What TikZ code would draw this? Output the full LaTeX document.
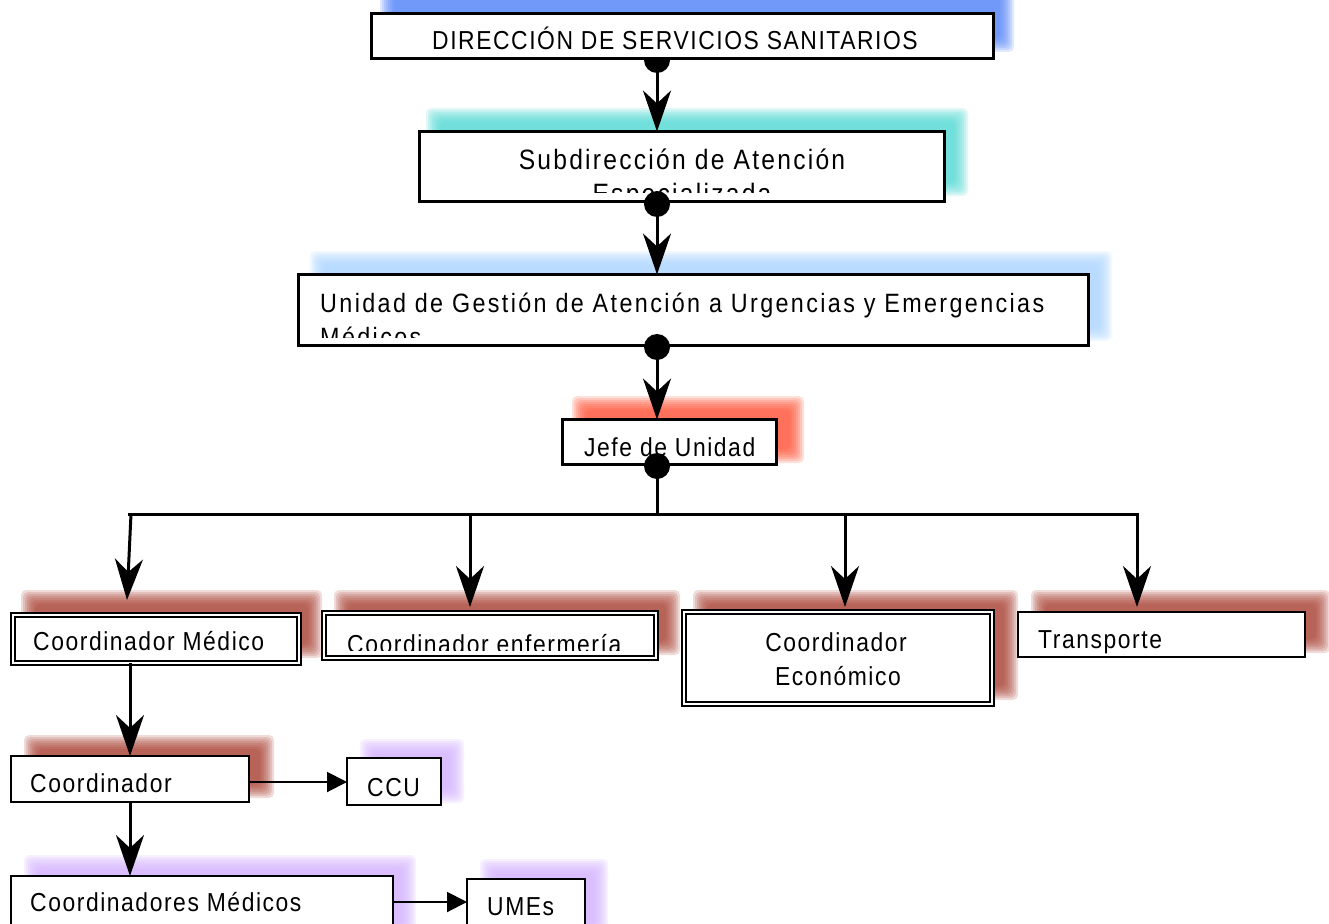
\documentclass[tikz,border=0pt]{standalone}
\usepackage{fontspec}
\setmainfont{Liberation Sans}
\newfontfamily\lab[FakeStretch=0.88, LetterSpace=6]{Liberation Sans}
\newfontfamily\labwide[FakeStretch=0.88, LetterSpace=8]{Liberation Sans}
\newfontfamily\labwider[FakeStretch=0.88, LetterSpace=9]{Liberation Sans}
\usetikzlibrary{arrows.meta}
\definecolor{gBlue}{RGB}{80,130,250}
\definecolor{gCyan}{RGB}{80,218,212}
\definecolor{gLight}{RGB}{170,212,255}
\definecolor{gRed}{RGB}{255,80,50}
\definecolor{gBrick}{RGB}{168,62,48}
\definecolor{gPurple}{RGB}{212,176,255}
\newcommand{\glowbox}[5]{%
  \foreach \d in {8,6,...,-6}{%
    \fill[#5, fill opacity=0.18, rounded corners=5pt] ({#1-\d},{#2-\d}) rectangle ({#3+\d},{#4+\d});}}
\tikzset{
  box/.style={draw=black, fill=white, line width=3pt, inner sep=0pt, outer sep=0pt},
  thinbox/.style={draw=black, fill=white, line width=2pt, inner sep=0pt, outer sep=0pt},
  dbox/.style={draw=black, double=white, double distance=2.5pt, line width=1.5pt, fill=white, inner sep=0pt, outer sep=0pt},
  txt/.style={inner sep=0pt, anchor=base west, font=\lab\fontsize{26}{34}\selectfont},
  dot/.style={circle, fill=black, inner sep=0pt, minimum size=26pt},
  bigarr/.style={line width=3pt, -{Stealth[length=41pt,width=28pt,inset=13pt]}},
  smallarr/.style={line width=2pt, -{Triangle[length=20pt,width=20pt]}},
  tree/.style={line width=3pt}
}
\begin{document}
\begin{tikzpicture}[x=1pt,y=-1pt]
\useasboundingbox (0,0) rectangle (1329,923);
\fill[white] (0,0) rectangle (1329,923);
% glows
\glowbox{388}{-12}{1006}{44}{gBlue}
\glowbox{434}{116}{960}{188}{gCyan}
\glowbox{318}{259}{1104}{333}{gLight}
\glowbox{580}{404}{796}{455}{gRed}
\glowbox{29}{598}{314}{650}{gBrick}
\glowbox{342}{598}{672}{647}{gBrick}
\glowbox{701}{598}{1010}{692}{gBrick}
\glowbox{1039}{598}{1322}{645}{gBrick}
\glowbox{32}{743}{266}{790}{gBrick}
\glowbox{368}{747}{456}{795}{gPurple}
\glowbox{32}{863}{408}{940}{gPurple}
\glowbox{488}{867}{600}{940}{gPurple}
% first dot behind top box
\node[dot] (d1) at (657,60) {};
% boxes
\node[box, minimum width=622pt, minimum height=45pt] (b1) at (682.5,36) {};
\node[box, minimum width=525pt, minimum height=70pt] (b2) at (682,166.5) {};
\node[box, minimum width=790pt, minimum height=71pt] (b3) at (693.5,310) {};
\node[box, minimum width=214pt, minimum height=45pt] (b4) at (669.5,442) {};
\node[dbox, minimum width=286pt, minimum height=48pt] (cm) at (156,639) {};
\node[dbox, minimum width=332pt, minimum height=45pt] (ce) at (490,635.5) {};
\node[dbox, minimum width=308pt, minimum height=92pt] (ceco) at (838,658) {};
\node[thinbox, minimum width=287pt, minimum height=45pt] (tr) at (1161.5,634.5) {};
\node[thinbox, minimum width=238pt, minimum height=46pt] (co) at (130,779) {};
\node[thinbox, minimum width=94pt, minimum height=47pt] (ccu) at (394,781.5) {};
\node[thinbox, minimum width=382pt, minimum height=74pt] (cms) at (202,913) {};
\node[thinbox, minimum width=118pt, minimum height=71pt] (umes) at (526,914.5) {};
% texts
\node[txt] (t1) at (432,50) {DIRECCIÓN DE SERVICIOS SANITARIOS};
\node[txt, anchor=base, font=\labwide\fontsize{28}{34}\selectfont] (t2) at (682,169) {Subdirección de Atención};
\begin{scope}
  \clip (420,133) rectangle (944,192);
  \node[txt, anchor=base, font=\labwide\fontsize{28}{34}\selectfont] (t2b) at (682,203) {Especializada};
\end{scope}
\node[txt, font=\labwider\fontsize{26.5}{34}\selectfont] (t3) at (320,312) {Unidad de Gestión de Atención a Urgencias y Emergencias};
\begin{scope}
  \clip (300,276) rectangle (1087,337);
  \node[txt, font=\labwider\fontsize{26.5}{34}\selectfont] (t3b) at (320,346) {Médicos};
\end{scope}
\node[txt] (t4) at (584,456) {Jefe de Unidad};
\node[txt] (tcm) at (33,650) {Coordinador Médico};
\begin{scope}
  \clip (328,617) rectangle (652,650);
  \node[txt] (tce) at (347,653) {Coordinador enfermería};
\end{scope}
\node[txt, anchor=base] (tceco1) at (836,651) {Coordinador};
\node[txt, anchor=base] (tceco2) at (838,685) {Económico};
\node[txt] (ttr) at (1038,648) {Transporte};
\node[txt] (tco) at (30,792) {Coordinador};
\node[txt] (tccu) at (367,796) {CCU};
\node[txt] (tcms) at (30,911) {Coordinadores Médicos};
\node[txt] (tumes) at (487,915) {UMEs};
% dots on top
\node[dot] (d2) at (657,204) {};
\node[dot] (d3) at (657,347) {};
\node[dot] (d4) at (657,466) {};
% vertical arrows
\draw[bigarr] (d1.center) -- (d1.center |- b2.north);
\draw[bigarr] (d2.center) -- (d2.center |- b3.north);
\draw[bigarr] (d3.center) -- (d3.center |- b4.north);
% tree
\coordinate (j) at (657,514);
\coordinate (h1) at (129,514);
\coordinate (h1b) at (131,514);
\coordinate (h2) at (470,514);
\coordinate (h3) at (845,514);
\coordinate (h4) at (1137,514);
\coordinate (e1) at (127,600);
\coordinate (e2) at (470,607);
\coordinate (e3) at (845,607);
\coordinate (e4) at (1137,607);
\draw[tree] (d4.center) -- (j);
\draw[tree, line cap=rect] (h1) -- (h4);
\draw[bigarr] (h1b) -- (e1);
\draw[bigarr] (h2) -- (e2);
\draw[bigarr] (h3) -- (e3);
\draw[bigarr] (h4) -- (e4);
% lower chain
\draw[bigarr] (cm.south -| co.north) -- (co.north);
\draw[bigarr] (co.south) -- (cms.north -| co.south);
\coordinate (a4) at (249,782);
\coordinate (a5) at (393,902);
\draw[smallarr] (a4) -- (a4 -| ccu.west);
\draw[smallarr] (a5) -- (a5 -| umes.west);
\end{tikzpicture}
\end{document}
